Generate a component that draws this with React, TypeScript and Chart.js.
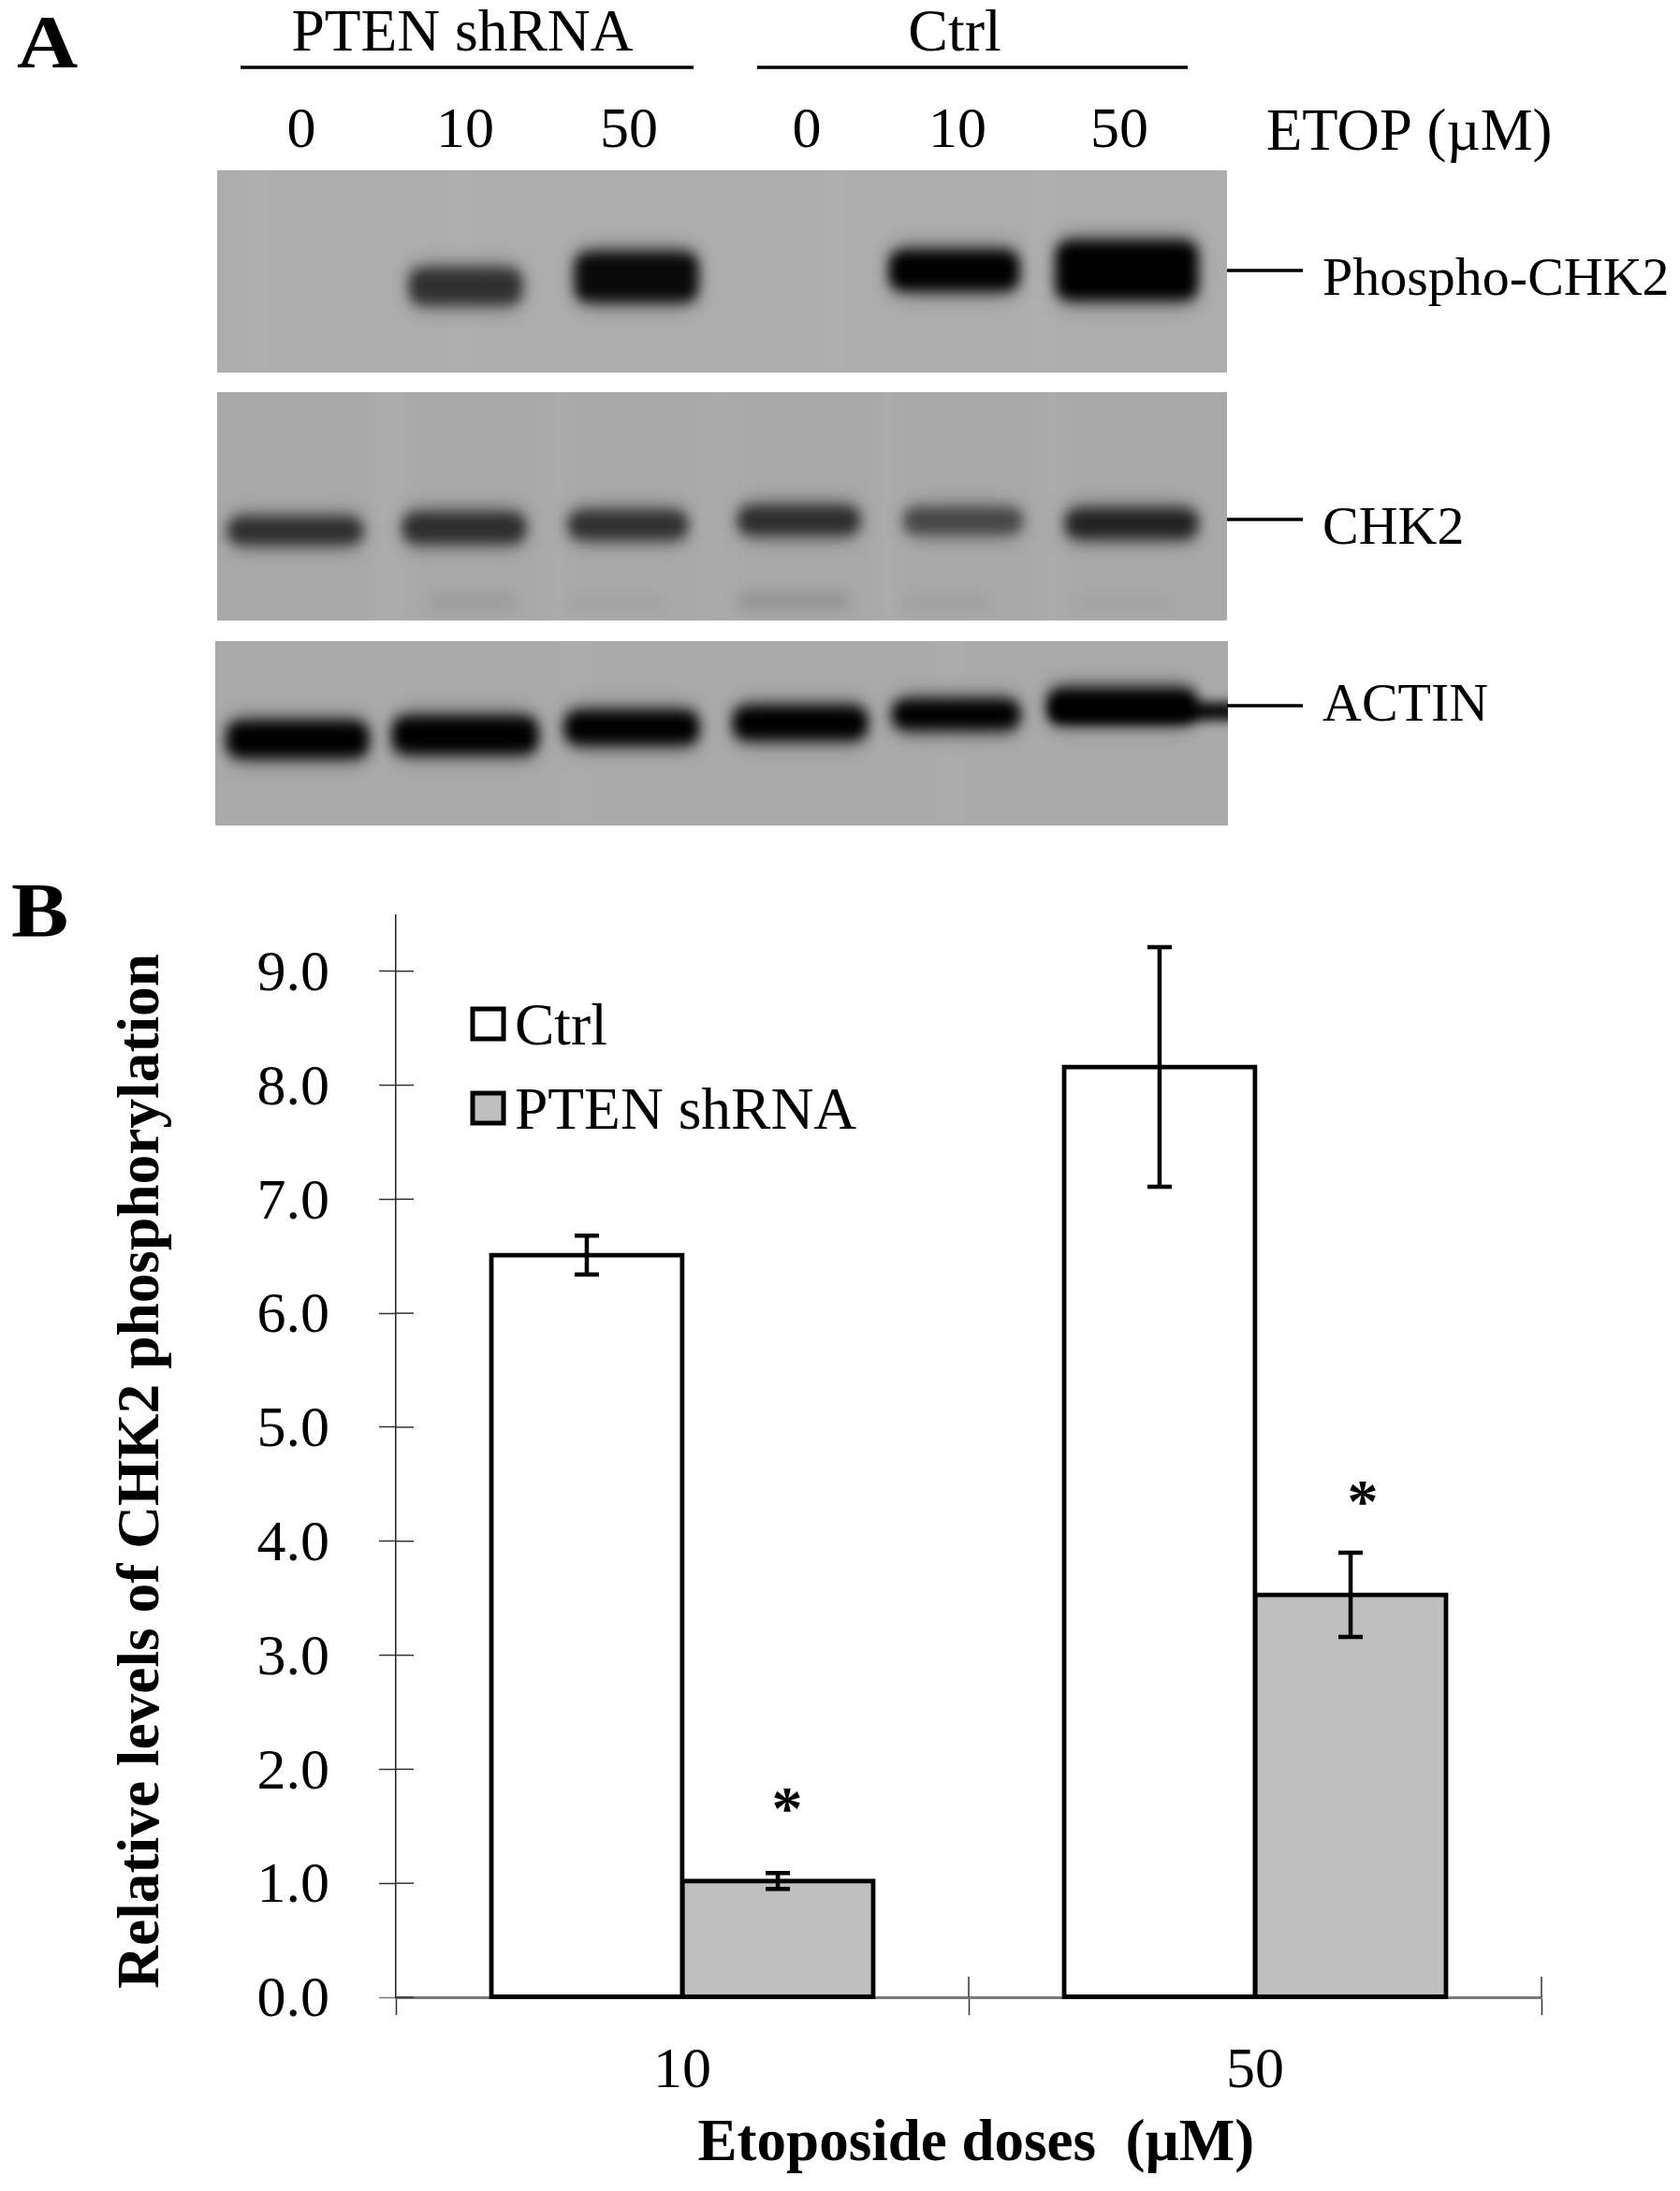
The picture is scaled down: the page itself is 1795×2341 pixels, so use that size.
import React, { useEffect, useRef } from "react";
import { Chart, registerables } from "chart.js";

Chart.register(...registerables);

// ---- Panel B data
const doseLabels = ["10", "50"];
const ctrlValues = [6.51, 8.16];
const ctrlErrors = [0.17, 1.05];
const shrnaValues = [1.02, 3.53];
const shrnaErrors = [0.07, 0.37];
const asteriskLevels = [1.7, 4.39];
const yTicks = [0, 1, 2, 3, 4, 5, 6, 7, 8, 9];
const ctrlName = "Ctrl";
const shrnaName = "PTEN shRNA";
const yTitle = "Relative levels of CHK2 phosphorylation";
const xTitle = "Etoposide doses  (\u00b5M)";

// ---- Panel A data (band darkness per lane, 0 = nothing, 1 = black)
const laneDoses = ["0", "10", "50", "0", "10", "50"];
const phosphoBands = [0, 0.72, 0.95, 0, 1, 1];
const chk2Bands = [0.74, 0.74, 0.72, 0.74, 0.6, 0.8];
const chk2FaintBands = [0, 0.1, 0.05, 0.14, 0.07, 0.05];
const actinBands = [1, 1, 1, 1, 1, 1];

const SERIF = '"Liberation Serif"';
const font = (size: number, bold = false) => `${bold ? "bold " : ""}${size}px ${SERIF}`;

// Layout of the blot panels: [x, y, w, h] boxes in page pixels
const PANELS: any[] = [
  {
    rect: [232, 182, 1079, 216], bg: "#adadad", bands: phosphoBands,
    boxes: [null, [438, 288, 119, 36], [615, 271, 130, 50], null, [951, 269, 137, 40], [1129, 259, 150, 60]],
    streaks: [[260, 0.03], [480, 0.03], [880, 0.03], [1100, 0.03]],
  },
  {
    rect: [232, 419, 1079, 244], bg: "#a9a9a9", bands: chk2Bands,
    boxes: [[244, 554, 143, 26], [431, 549, 130, 30], [608, 547, 126, 28], [789, 542, 129, 28], [966, 544, 126, 25], [1139, 545, 140, 29]],
    streaks: [[405, 0.06], [585, 0.03], [755, 0.03], [935, 0.03], [1110, 0.03]],
  },
  {
    rect: [230, 685, 1082, 197], bg: "#aaaaaa", bands: actinBands,
    boxes: [[243, 772, 150, 36], [420, 767, 154, 37], [604, 761, 142, 33], [784, 756, 142, 33], [954, 749, 135, 29], [1120, 737, 158, 34]],
    streaks: [[600, 0.03], [1000, 0.03]],
  },
];
const FAINT_BOXES = [null, [460, 636, 90, 14], [610, 638, 100, 12], [790, 634, 116, 17], [965, 638, 90, 12], [1150, 638, 100, 12]];
const ACTIN_JOINT = [1125, 750, 200, 20];

function drawText(ctx: any, text: string, x: number, y: number, f: string, align: any = "left") {
  ctx.font = f;
  ctx.textAlign = align;
  ctx.textBaseline = "alphabetic";
  ctx.fillStyle = "#000";
  ctx.fillText(text, x, y);
}

function drawWideLetter(ctx: any, text: string, x: number, y: number, f: string, sx: number) {
  ctx.save();
  ctx.translate(x, y);
  ctx.scale(sx, 1);
  drawText(ctx, text, 0, 0, f);
  ctx.restore();
}

function hline(ctx: any, x0: number, x1: number, y: number, w: number) {
  ctx.strokeStyle = "#000";
  ctx.lineWidth = w;
  ctx.beginPath();
  ctx.moveTo(x0, y);
  ctx.lineTo(x1, y);
  ctx.stroke();
}

function band(ctx: any, b: number[], dark: number) {
  const shade = Math.round(172 * (1 - dark));
  ctx.fillStyle = `rgb(${shade},${shade},${shade})`;
  // soft halo
  ctx.filter = "blur(10px)";
  ctx.globalAlpha = 0.5;
  ctx.beginPath();
  ctx.roundRect(b[0] + 2, b[1] - 6, b[2] - 4, b[3] + 12, 14);
  ctx.fill();
  // core
  ctx.filter = "blur(7px)";
  ctx.globalAlpha = 1;
  ctx.beginPath();
  ctx.roundRect(b[0], b[1], b[2], b[3], 12);
  ctx.fill();
}

const blotPlugin = {
  id: "blot",
  beforeDraw(chart: any) {
    const ctx = chart.ctx;
    ctx.save();
    ctx.fillStyle = "#fff";
    ctx.fillRect(0, 0, chart.width, chart.height);
    PANELS.forEach((p) => {
      const [x, y, w, h] = p.rect;
      ctx.save();
      ctx.beginPath();
      ctx.rect(x, y, w, h);
      ctx.clip();
      ctx.fillStyle = p.bg;
      ctx.fillRect(x, y, w, h);
      // faint lighter vertical streaks of the film
      ctx.filter = "blur(12px)";
      p.streaks.forEach(([sx, a]: number[]) => {
        ctx.fillStyle = `rgba(255,255,255,${a})`;
        ctx.fillRect(sx, y - 40, 26, h + 80);
      });
      p.boxes.forEach((b: number[] | null, i: number) => {
        if (b && p.bands[i]) band(ctx, b, p.bands[i]);
      });
      if (p.bands === chk2Bands) {
        FAINT_BOXES.forEach((b: any, i: number) => {
          if (!b || !chk2FaintBands[i]) return;
          ctx.filter = "blur(8px)";
          ctx.fillStyle = `rgba(0,0,0,${chk2FaintBands[i]})`;
          ctx.fillRect(b[0], b[1], b[2], b[3]);
        });
      }
      if (p.bands === actinBands) {
        ctx.filter = "blur(6px)";
        ctx.fillStyle = "rgba(0,0,0,0.92)";
        ctx.fillRect(ACTIN_JOINT[0], ACTIN_JOINT[1], ACTIN_JOINT[2], ACTIN_JOINT[3]);
      }
      ctx.filter = "none";
      ctx.restore();
    });
    // Panel letters
    drawWideLetter(ctx, "A", 18, 72, font(80, true), 1.13);
    drawWideLetter(ctx, "B", 12, 1000, font(82, true), 1.12);
    // Groups
    drawText(ctx, shrnaName, 494, 54, font(63.5), "center");
    hline(ctx, 257, 741, 72, 3.5);
    drawText(ctx, ctrlName, 1020, 54, font(64), "center");
    hline(ctx, 809, 1269, 72, 3.5);
    const laneX = [322, 497, 672, 862, 1023, 1196];
    laneDoses.forEach((d, i) => drawText(ctx, d, laneX[i], 157, font(62), "center"));
    drawText(ctx, "ETOP (\u00b5M)", 1353, 160, font(62.8));
    // Band labels
    hline(ctx, 1311, 1392, 289, 3.5);
    drawText(ctx, "Phospho-CHK2", 1413, 315, font(58));
    hline(ctx, 1311, 1392, 555, 3.5);
    drawText(ctx, "CHK2", 1413, 581, font(58));
    hline(ctx, 1311, 1392, 754, 3.5);
    drawText(ctx, "ACTIN", 1413, 770, font(58));
    ctx.restore();
  },
};

const marksPlugin = {
  id: "marks",
  afterDatasetsDraw(chart: any) {
    const ctx = chart.ctx;
    const xs = chart.scales.x;
    const ys = chart.scales.y;
    ctx.save();
    // inner half of tick marks
    ctx.lineWidth = 1.5;
    ctx.strokeStyle = "#333";
    yTicks.forEach((t) => {
      const y = ys.getPixelForValue(t);
      ctx.beginPath();
      ctx.moveTo(xs.left, y);
      ctx.lineTo(xs.left + 19, y);
      ctx.stroke();
    });
    const step = xs.getPixelForValue(1) - xs.getPixelForValue(0);
    const bottom = ys.getPixelForValue(0);
    [1, 2].forEach((i) => {
      const x = xs.getPixelForValue(0) - step / 2 + step * i;
      ctx.beginPath();
      ctx.moveTo(x, bottom - 22);
      ctx.lineTo(x, bottom);
      ctx.stroke();
    });
    // error bars
    const drawErr = (dsIndex: number, errs: number[]) => {
      const meta = chart.getDatasetMeta(dsIndex);
      const vals = chart.data.datasets[dsIndex].data;
      meta.data.forEach((el: any, i: number) => {
        const hi = ys.getPixelForValue(vals[i] + errs[i]);
        const lo = ys.getPixelForValue(vals[i] - errs[i]);
        ctx.strokeStyle = "#000";
        ctx.lineWidth = 4.5;
        ctx.beginPath();
        ctx.moveTo(el.x, hi);
        ctx.lineTo(el.x, lo);
        ctx.moveTo(el.x - 13, hi);
        ctx.lineTo(el.x + 13, hi);
        ctx.moveTo(el.x - 13, lo);
        ctx.lineTo(el.x + 13, lo);
        ctx.stroke();
      });
    };
    drawErr(0, ctrlErrors);
    drawErr(1, shrnaErrors);
    // significance asterisks
    const meta = chart.getDatasetMeta(1);
    const starDx = [10, 13];
    meta.data.forEach((el: any, i: number) => {
      drawText(ctx, "*", el.x + starDx[i], ys.getPixelForValue(asteriskLevels[i]) + 27, font(66, true), "center");
    });
    // legend
    [0, 1].forEach((i) => {
      const ds = chart.data.datasets[i];
      const y = [1078, 1168][i];
      ctx.fillStyle = ds.backgroundColor;
      ctx.strokeStyle = "#000";
      ctx.lineWidth = 5;
      ctx.fillRect(505, y, 33, 32);
      ctx.strokeRect(505, y, 33, 32);
      drawText(ctx, ds.label, 550, [1116, 1206][i], font(63.5));
    });
    ctx.restore();
  },
};

export default function App() {
  const ref = useRef<HTMLCanvasElement>(null);
  useEffect(() => {
    const chart = new Chart(ref.current as HTMLCanvasElement, {
      type: "bar",
      data: {
        labels: doseLabels,
        datasets: [
          { label: ctrlName, data: ctrlValues, backgroundColor: "#ffffff" },
          { label: shrnaName, data: shrnaValues, backgroundColor: "#bfbfbf" },
        ],
      },
      options: {
        responsive: false,
        animation: false,
        devicePixelRatio: 1,
        layout: { padding: { top: 978, right: 148, left: 0, bottom: 0 } },
        datasets: {
          bar: {
            categoryPercentage: 0.667,
            barPercentage: 1,
            borderColor: "#000",
            borderWidth: 5,
            borderSkipped: false,
            inflateAmount: 2.5,
            clip: false,
          },
        },
        plugins: { legend: { display: false }, tooltip: { enabled: false }, title: { display: false } },
        scales: {
          x: {
            afterFit: (s: any) => { s.height = 207; },
            grid: { offset: true, drawOnChartArea: false, tickLength: 19, tickColor: "#333", tickWidth: 1.5 },
            border: { color: "#7a7a7a", width: 3 },
            ticks: { color: "#000", padding: 24, font: { family: SERIF, size: 62 } },
            title: {
              display: true, text: " " + xTitle, color: "#000",
              font: { family: SERIF, size: 63, weight: "bold", lineHeight: 1.2 },
              padding: { top: 0, bottom: 11 },
            },
          },
          y: {
            min: 0,
            max: 9.49,
            afterFit: (s: any) => { s.width = 423; },
            grid: {
              drawOnChartArea: false, tickLength: 18, tickWidth: 1.5,
              tickColor: (c: any) => (c.tick && c.tick.value === 0 ? "#7a7a7a" : "#333"),
            },
            border: { color: "#222", width: 1.5 },
            ticks: {
              stepSize: 1, includeBounds: false, color: "#000", padding: 53, labelOffset: 4,
              font: { family: SERIF, size: 62 },
              callback: (v: any) => Number(v).toFixed(1),
            },
            title: {
              display: true, text: yTitle + "  ", color: "#000",
              font: { family: SERIF, size: 63.4, weight: "bold", lineHeight: 1.2 },
              padding: { top: 115, bottom: 0 },
            },
          },
        },
      } as any,
      plugins: [blotPlugin, marksPlugin],
    });
    return () => chart.destroy();
  }, []);
  return (
    <canvas
      ref={ref}
      width={1795}
      height={2341}
      style={{ position: "absolute", left: 0, top: 0, width: 1795, height: 2341, display: "block" }}
    />
  );
}
